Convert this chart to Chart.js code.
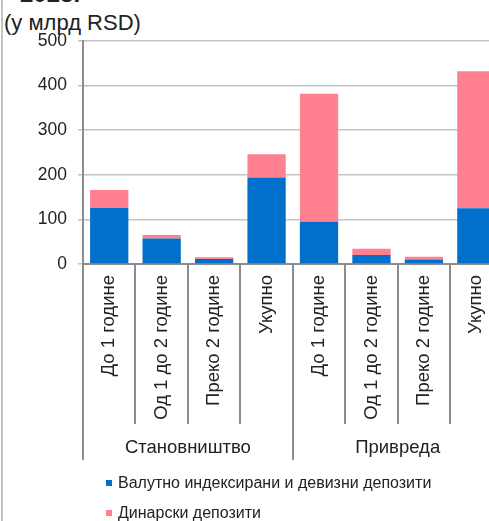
<!DOCTYPE html>
<html>
<head>
<meta charset="utf-8">
<script src="https://cdn.jsdelivr.net/npm/chart.js@4"></script>
<style>
  html, body { margin: 0; padding: 0; background: #fff; width: 489px; height: 521px; overflow: hidden; }
  #wrap { position: relative; width: 489px; height: 521px; overflow: hidden;
          font-family: 'Liberation Sans', Arial, sans-serif; color: #222; }
  #frame { position: absolute; left: 1px; top: 0; width: 2px; height: 521px; background: #c4c4c4; }
  #title { position: absolute; left: 20px; top: -20px; font-weight: bold; font-size: 24px; line-height: 28px; }
  #unit { position: absolute; left: 4px; top: 11px; font-size: 22px; line-height: 24px; }
  canvas { position: absolute; left: 0; top: 0; }
  .leg { position: absolute; left: 106px; font-size: 16px; line-height: 20px; white-space: nowrap; }
  .leg i { position: absolute; left: 0; top: 7px; width: 6px; height: 6px; }
  .leg span { position: absolute; left: 12px; top: 0; }
</style>
</head>
<body>
<div id="wrap">
  <div id="frame"></div>
  <div id="title">2023.</div>
  <div id="unit">(у млрд RSD)</div>
  <canvas id="c" width="510" height="521"></canvas>
  <div class="leg" id="leg0" style="top:473px"><i></i><span></span></div>
  <div class="leg" id="leg1" style="top:503px"><i></i><span></span></div>
</div>
<script>
// Maturity buckets, repeated for each sector
const categories = ['До 1 године', 'Од 1 до 2 године', 'Преко 2 године', 'Укупно',
                    'До 1 године', 'Од 1 до 2 године', 'Преко 2 године', 'Укупно'];
const groups = ['Становништво', 'Привреда'];
const groupSpan = 4;

// Deposits, RSD bn
const fxIndexedDeposits = [126, 57, 11, 194, 95, 20, 10, 125];
const dinarDeposits = [40, 8, 4, 52, 287, 14, 6, 307];

const seriesNames = ['Валутно индексирани и девизни депозити', 'Динарски депозити'];
const seriesColors = ['#0070CC', '#FF808F'];

const yTicks = { min: 0, max: 500, step: 100 };

// HTML legend
seriesNames.forEach((name, i) => {
  const el = document.getElementById('leg' + i);
  el.querySelector('i').style.background = seriesColors[i];
  el.querySelector('span').textContent = name;
});

// Category separators and sector labels below the tick labels
const groupAxis = {
  id: 'groupAxis',
  afterDraw(chart) {
    const { ctx, chartArea } = chart;
    const n = categories.length;
    const step = (chartArea.right - chartArea.left) / n;
    const y0 = chartArea.bottom;
    ctx.save();
    ctx.strokeStyle = '#8c8c8c';
    ctx.lineWidth = 2;
    for (let i = 0; i <= n; i++) {
      const x = Math.round(chartArea.left + i * step);
      const long = i % groupSpan === 0;
      ctx.beginPath();
      ctx.moveTo(x, y0);
      ctx.lineTo(x, long ? 460 : 424);
      ctx.stroke();
    }
    ctx.fillStyle = '#222';
    ctx.font = '18.5px "Liberation Sans", Arial, sans-serif';
    ctx.textAlign = 'center';
    ctx.textBaseline = 'middle';
    groups.forEach((g, gi) => {
      const cx = chartArea.left + (gi * groupSpan + groupSpan / 2) * step;
      ctx.fillText(g, cx, 448);
    });
    ctx.restore();
  }
};

const family = '"Liberation Sans", Arial, sans-serif';

new Chart(document.getElementById('c'), {
  type: 'bar',
  data: {
    labels: categories,
    datasets: [
      { label: seriesNames[0], data: fxIndexedDeposits, backgroundColor: seriesColors[0] },
      { label: seriesNames[1], data: dinarDeposits, backgroundColor: seriesColors[1] }
    ]
  },
  options: {
    responsive: false,
    animation: false,
    devicePixelRatio: 1,
    layout: { padding: { top: 41, right: 7, left: 0, bottom: 0 } },
    datasets: { bar: { categoryPercentage: 1, barPercentage: 0.73 } },
    plugins: { legend: { display: false }, tooltip: { enabled: false } },
    scales: {
      x: {
        stacked: true,
        grid: { display: false, drawTicks: false },
        border: { display: true, color: '#8c8c8c', width: 2 },
        ticks: { minRotation: 90, maxRotation: 90, autoSkip: false, padding: 11, color: '#222',
                 font: { family, size: 18.5 } },
        afterFit(scale) { scale.height = 521 - 264; }
      },
      y: {
        stacked: true,
        min: yTicks.min,
        max: yTicks.max,
        grid: { color: '#c4c4c4', lineWidth: 1.5, tickLength: 5 },
        border: { display: true, color: '#8c8c8c', width: 2 },
        ticks: { stepSize: yTicks.step, padding: 11, color: '#222', font: { family, size: 17.5 } },
        afterFit(scale) { scale.width = 83; }
      }
    }
  },
  plugins: [groupAxis]
});
</script>
</body>
</html>
